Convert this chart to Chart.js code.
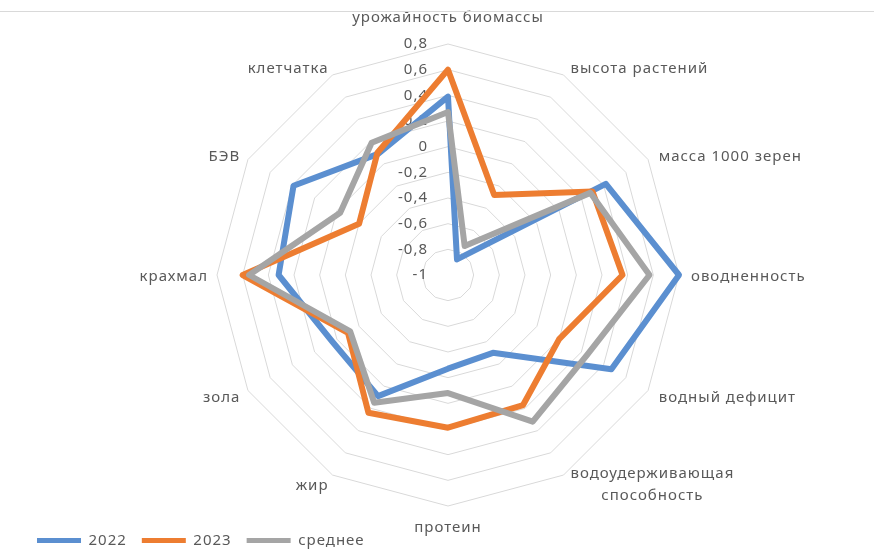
<!DOCTYPE html>
<html lang="ru">
<head>
<meta charset="utf-8">
<title>Радарная диаграмма</title>
<script src="https://cdn.jsdelivr.net/npm/chart.js@4.4.1/dist/chart.umd.min.js"></script>
<style>
  html, body { margin: 0; padding: 0; background: #fff; }
  .chart-box { position: relative; width: 874px; height: 558px; }
  .chart-box::before { content: ""; position: absolute; left: 0; right: 0; top: 11px; border-top: 1px solid #d9d9d9; }
</style>
</head>
<body>
<div class="chart-box">
  <canvas id="radarChart" width="874" height="558"></canvas>
</div>
<script>
// Data
const categories = [
    'урожайность биомассы', 'высота растений', 'масса 1000 зерен', 'оводненность',
    'водный дефицит', ['водоудерживающая', 'способность'], 'протеин', 'жир',
    'зола', 'крахмал', 'БЭВ', 'клетчатка'
];
const values2022 = [0.39, -0.86, 0.42, 0.8, 0.47, -0.3, -0.27, 0.09, 0.04, 0.32, 0.39, 0.09];
const values2023 = [0.6, -0.28, 0.3, 0.36, 0.0, 0.17, 0.19, 0.24, -0.1, 0.6, -0.2, 0.1];
const valuesAvg = [0.27, -0.74, 0.28, 0.57, 0.25, 0.32, -0.08, 0.15, -0.12, 0.55, -0.03, 0.19];
const seriesNames = ['2022', '2023', 'среднее'];
const tickLabels = ['-1', '-0,8', '-0,6', '-0,4', '-0,2', '0', '0,2', '0,4', '0,6', '0,8'];

// Style
const colors = { blue: '#5b8fd0', orange: '#ed7d31', gray: '#a5a5a5' };
const textColor = '#595959';
const fontFamily = "'Noto Sans', sans-serif";
const fontSize = 15;

// Excel text looks a bit spaced out, apply it to the whole canvas
const letterSpacing = {
    id: 'letterSpacing',
    beforeUpdate(chart) { chart.ctx.letterSpacing = '1px'; },
    beforeDraw(chart) { chart.ctx.letterSpacing = '1px'; }
};

// Category names + value labels, drawn under the series like in Excel
const radarLabels = {
    id: 'radarLabels',
    beforeDatasetsDraw(chart) {
        const scale = chart.scales.r;
        const ctx = chart.ctx;
        ctx.save();
        ctx.fillStyle = textColor;
        ctx.font = `${fontSize}px ${fontFamily}`;

        // value labels to the left of the vertical axis
        ctx.textAlign = 'right';
        ctx.textBaseline = 'middle';
        scale.ticks.forEach((tick, i) => {
            const dist = scale.getDistanceFromCenterForValue(tick.value);
            ctx.fillText(tickLabels[i], scale.xCenter - 20, scale.yCenter - dist);
        });

        // category labels outside the outer ring
        categories.forEach((label, i) => {
            const deg = i * 360 / categories.length;
            const p = scale.getPointPosition(i, scale.drawingArea + 10);
            const lines = [].concat(label);
            if (deg === 0) {
                ctx.textAlign = 'center';
                ctx.fillText(lines[0], p.x, p.y - 16);
            } else if (deg === 180) {
                ctx.textAlign = 'center';
                ctx.fillText(lines[0], p.x, p.y + 12);
            } else if (lines.length > 1) {
                const w = Math.max(...lines.map(l => ctx.measureText(l).width));
                ctx.textAlign = 'center';
                lines.forEach((l, k) => ctx.fillText(l, p.x + 2 + w / 2, p.y - 10 + k * 22));
            } else {
                ctx.textAlign = deg < 180 ? 'left' : 'right';
                ctx.fillText(lines[0], deg < 180 ? p.x + 2 : p.x + 1, p.y + 2);
            }
        });
        ctx.restore();
    }
};

const makeSeries = (label, data, color, order) => ({
    label, data,
    borderColor: color,
    backgroundColor: color,
    borderWidth: 6,
    borderJoinStyle: 'round',
    pointRadius: 0,
    pointHoverRadius: 0,
    fill: false,
    order
});

new Chart(document.getElementById('radarChart'), {
    type: 'radar',
    data: {
        labels: categories,
        datasets: [
            makeSeries(seriesNames[0], values2022, colors.blue, 3),
            makeSeries(seriesNames[1], values2023, colors.orange, 2),
            makeSeries(seriesNames[2], valuesAvg, colors.gray, 1)
        ]
    },
    options: {
        responsive: false,
        animation: false,
        layout: { padding: { left: 22, right: 0, top: 44, bottom: 0 } },
        scales: {
            r: {
                min: -1,
                max: 0.8,
                ticks: { display: false, stepSize: 0.2 },
                grid: { color: '#d9d9d9', lineWidth: 1 },
                angleLines: { display: false },
                pointLabels: { display: false }
            }
        },
        plugins: {
            tooltip: { enabled: false },
            legend: {
                position: 'bottom',
                align: 'start',
                // empty title only keeps some space between the chart and the legend row
                title: { display: true, text: '', font: { size: 10 }, padding: 0 },
                labels: {
                    boxWidth: 44,
                    boxHeight: 5,
                    padding: 15,
                    color: textColor,
                    font: { family: fontFamily, size: 15 },
                    generateLabels: (c) => c.data.datasets.map((ds, i) => ({
                        text: ds.label,
                        fillStyle: ds.borderColor,
                        strokeStyle: ds.borderColor,
                        lineWidth: 0,
                        fontColor: textColor,
                        datasetIndex: i,
                        hidden: false
                    }))
                }
            }
        }
    },
    plugins: [letterSpacing, radarLabels]
});
</script>
</body>
</html>
